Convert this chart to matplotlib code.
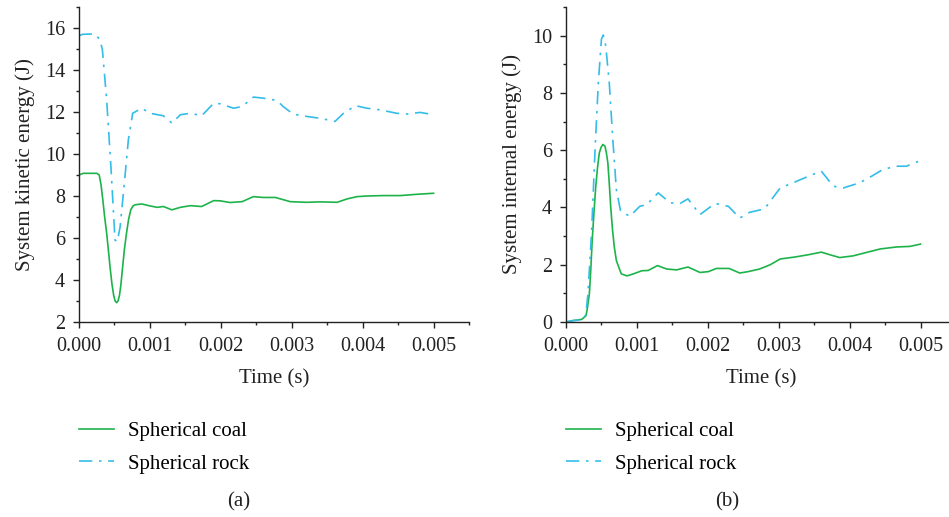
import matplotlib
matplotlib.use('Agg')
import matplotlib.pyplot as plt
from matplotlib.ticker import MultipleLocator, FormatStrFormatter

# (a) system kinetic energy, J
t_ke_rock = [0, 0.00005, 0.000226, 0.000296, 0.00033, 0.00039, 0.00045, 0.000508, 0.00054,
             0.00058, 0.000635, 0.000696, 0.000757, 0.000884, 0.001, 0.00119, 0.00131,
             0.00143, 0.00157, 0.00173, 0.0019, 0.00199, 0.00218, 0.0023, 0.00246, 0.0026,
             0.00279, 0.00288, 0.00302, 0.00321, 0.0034, 0.00361, 0.00373, 0.0039, 0.00406,
             0.00425, 0.00448, 0.00462, 0.00481, 0.005]
ke_rock = [15.63, 15.70, 15.72, 15.44, 14.96, 12.58, 9.40, 5.90, 5.83,
           6.54, 8.45, 10.67, 11.94, 12.18, 11.94, 11.82, 11.47,
           11.87, 11.94, 11.82, 12.42, 12.39, 12.18, 12.26, 12.71, 12.66,
           12.55, 12.26, 11.90, 11.79, 11.70, 11.55, 11.94, 12.30, 12.18,
           12.10, 11.94, 11.90, 11.98, 11.87]

t_ke_coal = [0, 0.00006, 0.00025, 0.000285, 0.00031, 0.000335, 0.00036, 0.00039, 0.000415,
             0.00044, 0.000465, 0.00049, 0.00051, 0.00053, 0.00055, 0.00057, 0.00059,
             0.000616, 0.00064, 0.00067, 0.0007, 0.00073, 0.00076, 0.00079, 0.000884,
             0.001, 0.0011, 0.00119, 0.00131, 0.00143, 0.00157, 0.00173, 0.0019, 0.00199,
             0.00213, 0.0023, 0.00246, 0.0026, 0.00277, 0.00298, 0.00321, 0.0034, 0.00364,
             0.00378, 0.00392, 0.00406, 0.00429, 0.00453, 0.00476, 0.005]
ke_coal = [9.00, 9.08, 9.08, 9.00, 8.55, 7.85, 7.05, 6.23, 5.40,
           4.55, 3.80, 3.25, 3.00, 2.92, 3.00, 3.25, 3.75,
           4.64, 5.45, 6.23, 6.90, 7.34, 7.52, 7.58, 7.62,
           7.53, 7.46, 7.50, 7.34, 7.46, 7.54, 7.50, 7.78, 7.77,
           7.69, 7.73, 7.97, 7.93, 7.93, 7.73, 7.70, 7.72, 7.70,
           7.86, 7.97, 8.00, 8.02, 8.02, 8.08, 8.13]

# (b) system internal energy, J
t_ie_rock = [0, 0.0001, 0.00022, 0.00028, 0.00031, 0.00036, 0.00041, 0.000456, 0.0005,
             0.000526, 0.00056, 0.00061, 0.00066, 0.00071, 0.00077, 0.0009, 0.00104,
             0.00114, 0.0013, 0.00147, 0.00161, 0.00172, 0.00189, 0.0021, 0.00229, 0.00245,
             0.00259, 0.0028, 0.00302, 0.0032, 0.00342, 0.0036, 0.00377, 0.00391, 0.00414,
             0.00431, 0.00447, 0.00466, 0.0048, 0.005]
ie_rock = [0, 0.05, 0.07, 0.25, 1.0, 3.1, 6.03, 8.36, 9.88,
           10.02, 9.65, 8.36, 6.38, 4.63, 3.87, 3.69, 4.04,
           4.10, 4.51, 4.16, 4.14, 4.30, 3.75, 4.14, 4.04, 3.63,
           3.83, 3.95, 4.68, 4.86, 5.09, 5.27, 4.74, 4.68, 4.86,
           5.09, 5.33, 5.44, 5.44, 5.64]

t_ie_coal = [0, 0.0001, 0.00022, 0.00028, 0.0003, 0.00033, 0.00035, 0.00037, 0.000395,
             0.00042, 0.000445, 0.00047, 0.000495, 0.00052, 0.00055, 0.00057, 0.00059,
             0.00061, 0.00063, 0.000655, 0.00068, 0.00071, 0.00074, 0.00078, 0.00086,
             0.00095, 0.00107, 0.00116, 0.00129, 0.00142, 0.00156, 0.00172, 0.00189,
             0.00201, 0.00212, 0.0023, 0.00245, 0.00257, 0.00273, 0.00288, 0.00302,
             0.00323, 0.00342, 0.0036, 0.00372, 0.00386, 0.00405, 0.00424, 0.00443,
             0.00466, 0.00485, 0.005]
ie_coal = [0, 0.05, 0.09, 0.21, 0.45, 1.0, 1.85, 2.87, 3.85,
           4.74, 5.40, 5.91, 6.10, 6.20, 6.14, 5.90, 5.56,
           4.85, 4.04, 3.25, 2.64, 2.15, 1.94, 1.68, 1.61,
           1.68, 1.79, 1.80, 1.97, 1.85, 1.82, 1.92, 1.73,
           1.76, 1.87, 1.87, 1.71, 1.76, 1.85, 2.00, 2.20,
           2.27, 2.35, 2.44, 2.35, 2.25, 2.31, 2.43, 2.55,
           2.62, 2.64, 2.72]

labels = ['Spherical coal', 'Spherical rock']
coal_color = '#1db34a'
rock_color = '#33bde8'
rock_dash = (0, (8, 4, 1.5, 4))
ink = '#222222'

plt.rcParams['font.family'] = ['Liberation Serif', 'DejaVu Serif']

fig = plt.figure(figsize=(9.49, 5.17), dpi=100)
W, H = 949.0, 517.0

ax1 = fig.add_axes([79 / W, 1 - 322 / H, 390 / W, 315 / H])
ax2 = fig.add_axes([566 / W, 1 - 322 / H, 390 / W, 315 / H])

panels = [
    (ax1, t_ke_coal, ke_coal, t_ke_rock, ke_rock, 'System kinetic energy (J)', (2, 17), '(a)', 239),
    (ax2, t_ie_coal, ie_coal, t_ie_rock, ie_rock, 'System internal energy (J)', (0, 11), '(b)', 727),
]

for ax, tc, yc, tr, yr, ylabel, ylim, tag, tag_x in panels:
    l1, = ax.plot(tc, yc, color=coal_color, lw=1.2, label=labels[0])
    l2, = ax.plot(tr, yr, color=rock_color, lw=1.2, linestyle=rock_dash, label=labels[1])
    ax.set_xlim(0, 0.0055)
    ax.set_ylim(*ylim)
    ax.xaxis.set_major_locator(MultipleLocator(0.001))
    ax.xaxis.set_minor_locator(MultipleLocator(0.0005))
    ax.xaxis.set_major_formatter(FormatStrFormatter('%.3f'))
    ax.yaxis.set_major_locator(MultipleLocator(2))
    ax.yaxis.set_minor_locator(MultipleLocator(1))
    for s in ['top', 'right']:
        ax.spines[s].set_visible(False)
    for s in ['left', 'bottom']:
        ax.spines[s].set_linewidth(1.0)
        ax.spines[s].set_color(ink)
    ax.tick_params(which='major', direction='out', length=4, width=1.0, labelsize=14.5,
                   colors=ink)
    ax.tick_params(axis='x', which='major', pad=7)
    ax.tick_params(axis='y', which='major', pad=6)
    ax.tick_params(which='minor', direction='out', length=2.5, width=1.0, colors=ink)
    ax.set_xlabel('Time (s)', fontsize=15, color=ink, labelpad=9)
    ax.set_ylabel(ylabel, fontsize=15, color=ink, labelpad=7)
    ax.legend(handles=[l1, l2], loc='upper left', bbox_to_anchor=(0.0, -0.316),
              frameon=False, fontsize=15, handlelength=1.7, handletextpad=0.67,
              labelspacing=0.62, borderaxespad=0, borderpad=0)
    fig.text(tag_x / W, 1 - 502 / H, tag, ha='center', va='center', fontsize=15, color=ink)

fig.savefig('out.png', dpi=100)
